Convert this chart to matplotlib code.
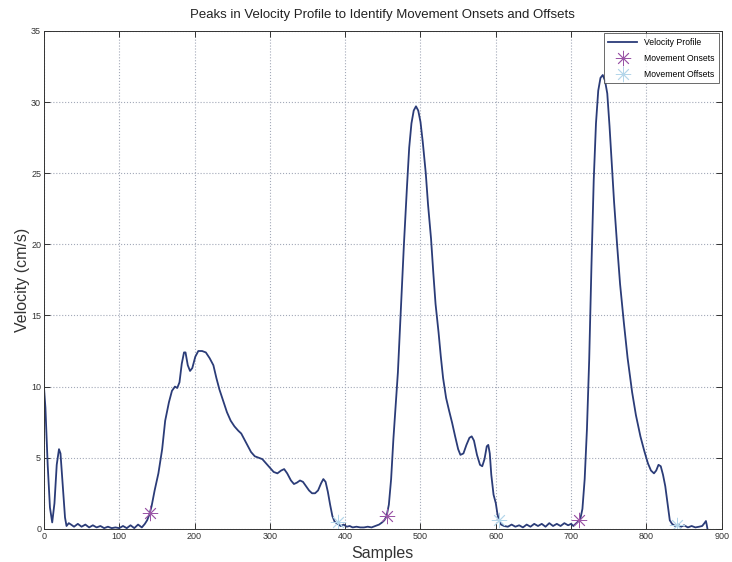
import matplotlib

matplotlib.use("Agg")
import matplotlib.pyplot as plt

plt.rcParams["font.family"] = ["Liberation Sans", "DejaVu Sans"]

# velocity profile (sample index, cm/s)
samples = [
    0, 2, 5, 8, 11, 14, 17, 20, 22, 25, 28, 30, 33, 36, 40, 45, 50, 55, 60, 65,
    70, 75, 80, 85, 90, 95, 100, 105, 110, 115, 120, 125, 130, 134, 137, 140, 143, 147, 152, 157,
    161, 166, 170, 174, 177, 180, 183, 186, 188, 191, 194, 197, 201, 205, 210, 215, 220, 225, 229, 233,
    238, 243, 248, 253, 258, 262, 266, 270, 275, 280, 285, 290, 295, 300, 305, 310, 315, 319, 323, 328,
    332, 336, 340, 344, 348, 352, 356, 360, 364, 368, 371, 374, 377, 380, 383, 386, 390, 394, 398, 402,
    406, 410, 415, 420, 425, 430, 435, 440, 445, 449, 452, 455, 458, 461, 464, 467, 470, 474, 478, 482,
    485, 488, 491, 494, 497, 500, 503, 507, 510, 514, 517, 520, 524, 527, 530, 534, 538, 542, 546, 550,
    553, 557, 561, 565, 568, 571, 575, 579, 582, 585, 588, 590, 592, 594, 597, 600, 602, 604, 607, 611,
    616, 621, 626, 631, 636, 641, 646, 651, 656, 661, 666, 671, 676, 681, 686, 691, 696, 700, 703, 706,
    709, 712, 715, 718, 721, 724, 727, 730, 733, 736, 739, 742, 745, 748, 751, 754, 757, 761, 765, 770,
    775, 781, 786, 792, 797, 802, 806, 810, 813, 816, 819, 822, 825, 828, 831, 834, 838, 842, 846, 850,
    855, 860, 865, 870, 874, 877, 879, 880, 881,
]
velocity = [
    10.0, 8.5, 4.5, 1.5, 0.45, 1.8, 4.5, 5.6, 5.3, 3.0, 0.8, 0.2, 0.4, 0.3, 0.15, 0.35, 0.15, 0.3, 0.1, 0.25,
    0.1, 0.2, 0.05, 0.15, 0.05, 0.1, 0.05, 0.2, 0.05, 0.25, 0.05, 0.3, 0.1, 0.35, 0.6, 1.0, 1.6, 2.7, 3.9, 5.6,
    7.6, 8.9, 9.7, 10.0, 9.9, 10.3, 11.6, 12.4, 12.4, 11.5, 11.1, 11.3, 12.1, 12.5, 12.5, 12.4, 12.0, 11.5, 10.6, 9.8,
    9.0, 8.2, 7.6, 7.2, 6.9, 6.7, 6.3, 5.9, 5.4, 5.1, 5.0, 4.9, 4.6, 4.3, 4.0, 3.9, 4.1, 4.2, 3.9, 3.4,
    3.15, 3.25, 3.4, 3.3, 3.0, 2.7, 2.5, 2.5, 2.7, 3.2, 3.5, 3.3, 2.6, 1.7, 0.9, 0.5, 0.35, 0.2, 0.3, 0.15,
    0.2, 0.1, 0.15, 0.1, 0.1, 0.15, 0.1, 0.2, 0.3, 0.45, 0.6, 0.9, 1.7, 3.5, 6.3, 8.7, 11.0, 15.5, 20.0, 24.0,
    26.8, 28.5, 29.4, 29.7, 29.4, 28.6, 27.2, 25.0, 22.8, 20.4, 18.0, 15.8, 13.8, 12.1, 10.6, 9.2, 8.3, 7.45, 6.5, 5.6,
    5.2, 5.3, 5.9, 6.4, 6.5, 6.2, 5.2, 4.5, 4.4, 4.9, 5.8, 5.9, 5.3, 3.8, 2.4, 1.8, 1.1, 0.6, 0.3, 0.2,
    0.15, 0.3, 0.15, 0.25, 0.1, 0.3, 0.15, 0.35, 0.2, 0.35, 0.15, 0.4, 0.2, 0.35, 0.2, 0.4, 0.25, 0.35, 0.2, 0.35,
    0.5, 0.65, 1.4, 3.5, 7.0, 11.9, 18.5, 24.5, 28.5, 30.8, 31.7, 31.9, 31.5, 30.6, 28.3, 25.6, 23.0, 20.0, 17.2, 14.5,
    12.0, 9.6, 8.0, 6.5, 5.5, 4.6, 4.1, 3.9, 4.1, 4.5, 4.4, 3.8, 3.0, 1.8, 0.6, 0.35, 0.2, 0.3, 0.15, 0.25,
    0.1, 0.2, 0.1, 0.15, 0.2, 0.4, 0.55, 0.3, 0.0,
]

onset_x = [141, 455, 711]
onset_y = [1.1, 0.9, 0.6]
offset_x = [390, 604, 840]
offset_y = [0.5, 0.6, 0.3]

x_ticks = [0, 100, 200, 300, 400, 500, 600, 700, 800, 900]
y_ticks = [0, 5, 10, 15, 20, 25, 30, 35]

asterisk = (8, 2, 0)

fig = plt.figure(figsize=(7.32, 5.62), dpi=100)
ax = fig.add_axes([0.060, 0.059, 0.926, 0.886])

ax.plot(samples, velocity, color="#2b3c78", linewidth=1.3, label="Velocity Profile")
ax.plot(onset_x, onset_y, linestyle="none", marker=asterisk, markersize=11,
        markeredgewidth=0.6, color="#9a55a6", label="Movement Onsets")
ax.plot(offset_x, offset_y, linestyle="none", marker=asterisk, markersize=11,
        markeredgewidth=0.6, color="#b4d6ea", label="Movement Offsets")

ax.set_xlim(0, 900)
ax.set_ylim(0, 35)
ax.set_xticks(x_ticks)
ax.set_yticks(y_ticks)
ax.tick_params(direction="in", length=4, width=0.7, labelsize=6.5, colors="#333333",
               top=True, right=True, pad=2)
ax.grid(True, linestyle=":", linewidth=0.8, color="#a3a9b8")
for spine in ax.spines.values():
    spine.set_linewidth(0.7)
    spine.set_color("#333333")

ax.set_title("Peaks in Velocity Profile to Identify Movement Onsets and Offsets",
             fontsize=9.5, color="#222222", pad=9)
ax.set_xlabel("Samples", fontsize=11.5, color="#333333", labelpad=4)
ax.set_ylabel("Velocity (cm/s)", fontsize=11.5, color="#333333", labelpad=1)

leg = ax.legend(loc="upper right", fontsize=6.2, frameon=True, fancybox=False,
                borderpad=0.5, handlelength=3.4, labelspacing=0.8,
                borderaxespad=0.3)
leg.get_frame().set_edgecolor("#444444")
leg.get_frame().set_linewidth(0.7)

fig.savefig("out.png")
plt.close(fig)
